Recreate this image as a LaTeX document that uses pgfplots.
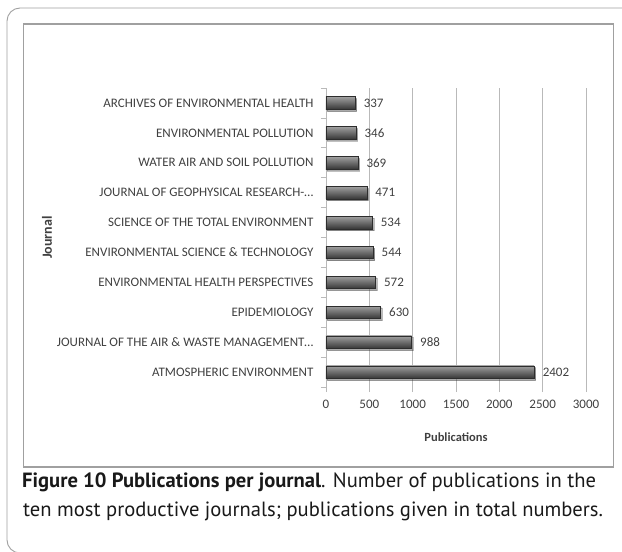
\documentclass[border=0pt]{standalone}
\usepackage{pgfplots}
\pgfplotsset{compat=1.18}
\usepackage{fontspec}
\setmainfont{Carlito}
\newfontfamily\capfont{PT Sans}
\usetikzlibrary{shadows}
\definecolor{lab}{RGB}{64,64,64}
\definecolor{gridc}{RGB}{185,185,185}
\definecolor{framec}{RGB}{160,160,160}
\definecolor{barhi}{RGB}{160,160,160}
\definecolor{barmid}{RGB}{85,85,85}
\definecolor{barlo}{RGB}{55,55,55}
\definecolor{baredge}{RGB}{45,45,45}
\pgfplotsset{
  onebar/.style={xbar, bar shift=0pt, bar width=12.5pt, draw=baredge, line width=0.5pt,
    top color=barhi, middle color=barmid, bottom color=barlo,
    drop shadow={shadow xshift=1.5pt, shadow yshift=-1.8pt, opacity=0.3},
    nodes near coords,
    nodes near coords style={font=\fontsize{13}{15}\selectfont, text=lab, anchor=west, xshift=5pt,
      /pgf/number format/1000 sep={}}}
}
\begin{document}
\begin{tikzpicture}
\useasboundingbox (0,0) rectangle (622pt,-552pt);
% outer rounded frame (cut by the page on right and bottom)
\draw[framec, line width=0.9pt, rounded corners=13pt] (7pt,-8pt) rectangle (660pt,-553pt);
% inner chart frame
\draw[framec, line width=1.2pt] (23.5pt,-24pt) rectangle (613.5pt,-467pt);
\begin{axis}[
  at={(326pt,-387pt)}, anchor=south west, scale only axis,
  width=260pt, height=299pt,
  xmin=0, xmax=3000, ymin=-0.5, ymax=9.5,
  axis lines*=left,
  x axis line style={draw=none},
  y axis line style={gridc, line width=0.8pt},
  xtick={0,500,...,3000},
  xmajorgrids, major grid style={gridc, line width=0.8pt},
  tick align=outside,
  major tick length=5pt, minor tick length=5pt,
  x tick style={gridc, line width=0.8pt},
  major y tick style={draw=none},
  minor y tick style={gridc, line width=0.8pt},
  ytick={0,...,9},
  minor ytick={-0.5,0.5,...,9.5},
  yticklabels={ATMOSPHERIC ENVIRONMENT,
    JOURNAL OF THE AIR \& WASTE MANAGEMENT\dots,
    EPIDEMIOLOGY,
    ENVIRONMENTAL HEALTH PERSPECTIVES,
    ENVIRONMENTAL SCIENCE \& TECHNOLOGY,
    SCIENCE OF THE TOTAL ENVIRONMENT,
    JOURNAL OF GEOPHYSICAL RESEARCH-\dots,
    WATER AIR AND SOIL POLLUTION,
    ENVIRONMENTAL POLLUTION,
    ARCHIVES OF ENVIRONMENTAL HEALTH},
  /pgf/number format/assume math mode=true,
  /pgf/number format/1000 sep={},
  scaled x ticks=false,
  xticklabel style={font=\fontsize{13}{15}\selectfont, text=lab, yshift=-5pt},
  yticklabel style={font=\fontsize{13}{15}\selectfont, text=lab, xshift=-4pt},
  xlabel={\textbf{Publications}},
  xlabel style={font=\fontsize{12.5}{14}\selectfont, text=lab, at={(axis description cs:0.5,-0.167)}, anchor=center},
  ylabel={\textbf{Journal}},
  ylabel style={font=\fontsize{14}{16}\selectfont, text=lab, at={(axis description cs:-1.073,0.5)}, anchor=center, rotate=0},
  clip=false,
]
\addplot[onebar] coordinates {(2402,0)};
\addplot[onebar] coordinates {(988,1)};
\addplot[onebar] coordinates {(630,2)};
\addplot[onebar] coordinates {(572,3)};
\addplot[onebar] coordinates {(544,4)};
\addplot[onebar] coordinates {(534,5)};
\addplot[onebar] coordinates {(471,6)};
\addplot[onebar] coordinates {(369,7)};
\addplot[onebar] coordinates {(346,8)};
\addplot[onebar] coordinates {(337,9)};
\end{axis}
\node[anchor=base west, inner sep=0pt, text=black!90, font=\capfont\fontsize{20.6}{24}\selectfont] at (22pt,-487pt)
  {\textbf{Figure 10 Publications per journal}. Number of publications in the};
\node[anchor=base west, inner sep=0pt, text=black!90, font=\capfont\fontsize{20.6}{24}\selectfont] at (23pt,-516pt)
  {ten most productive journals; publications given in total numbers.};
\end{tikzpicture}
\end{document}
